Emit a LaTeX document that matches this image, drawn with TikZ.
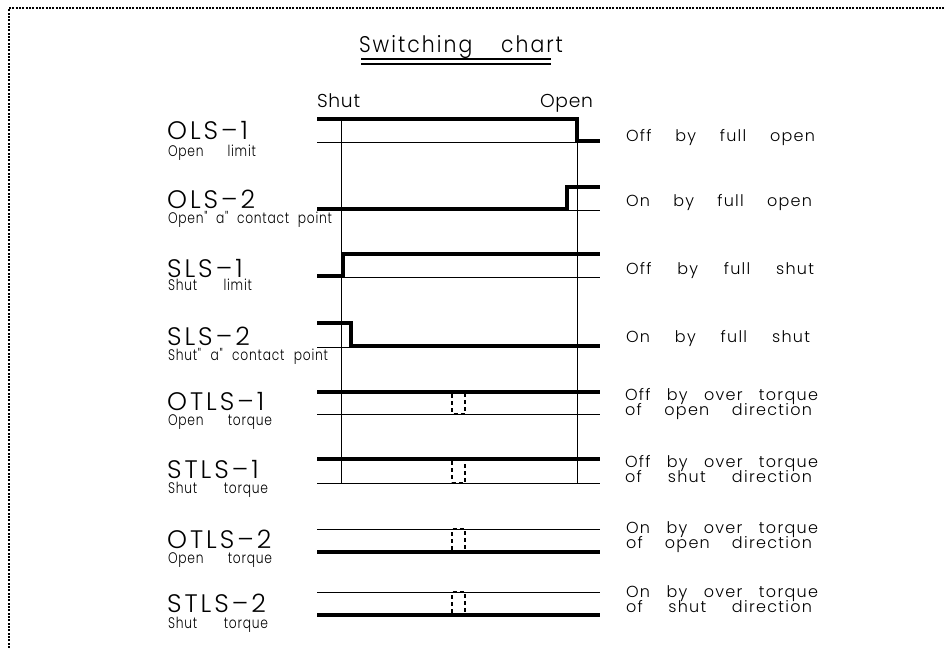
\documentclass[tikz,border=0pt]{standalone}
\usepackage{fontspec}
\newfontfamily\cadtitle{Poppins}[UprightFont=* Light, FakeStretch=0.9, LetterSpace=9]
\newfontfamily\cadbig{Poppins}[UprightFont=* Light, LetterSpace=12]
\newfontfamily\cadmid{Poppins}[UprightFont=* Light, LetterSpace=4]
\newfontfamily\cadsmall{Poppins}[UprightFont=* Light, FakeStretch=0.8, LetterSpace=5]
\newfontfamily\cadright{Poppins}[UprightFont=* Light, LetterSpace=8]
\newcommand{\wbox}[2]{\makebox[\dimexpr #1pt*3/4\relax][s]{#2}}
\tikzset{
  lbl/.style={anchor=base west, inner sep=0pt, outer sep=0pt},
  bigl/.style={lbl, font=\cadbig\fontsize{19}{19}\selectfont, text depth=0pt},
  smalll/.style={lbl, font=\cadsmall\fontsize{11.5}{11.5}\selectfont, text height=7pt, text depth=1.5pt},
  rightl/.style={lbl, font=\cadright\fontsize{12}{12}\selectfont, text height=8pt, text depth=1.5pt},
  thickline/.style={line width=3.4pt, line join=miter, line cap=butt},
  thinline/.style={line width=0.6pt},
  guide/.style={line width=0.75pt},
  dashbox/.style={line width=2.2pt, dash pattern=on 3pt off 2.4pt},
  border/.style={line width=1.5pt, dash pattern=on 1.5pt off 1pt}
}
\begin{document}
\begin{tikzpicture}[x=0.75pt, y=-0.75pt]
\useasboundingbox (0,0) rectangle (944,648);
\fill[white] (0,0) rectangle (944,648);
% frame
\draw[border] (9,648) -- (9,8) -- (944,8);
% title
\node[lbl, font=\cadtitle\fontsize{17}{17}\selectfont] (title) at (359,53) {\wbox{204}{Switching chart}};
\draw[line width=0.9pt] (361,59) -- (551,59);
\draw[line width=0.9pt] (361,64) -- (551,64);
\node[lbl, font=\cadmid\fontsize{14}{14}\selectfont] (shut) at (317,108) {Shut};
\node[lbl, font=\cadmid\fontsize{14}{14}\selectfont, anchor=base east] (open) at (593,108) {Open};
% vertical guides
\draw[guide] (341,119) -- (341,484);
\draw[guide] (577,119) -- (577,484);
% OLS-1
\draw[thinline] (317,142) -- (600,142);
\draw[thickline] (317,119) -- (577,119) -- (577,141) -- (600,141);
% OLS-2
\draw[thinline] (317,210) -- (600,210);
\draw[thickline] (317,209) -- (567,209) -- (567,187) -- (600,187);
% SLS-1
\draw[thinline] (317,277) -- (600,277);
\draw[thickline] (317,276) -- (343,276) -- (343,254) -- (600,254);
% SLS-2
\draw[thinline] (317,347) -- (600,347);
\draw[thickline] (317,323) -- (351,323) -- (351,346) -- (600,346);
% OTLS-1
\draw[thickline] (317,392) -- (600,392);
\draw[thinline] (317,414) -- (600,414);
\draw[dashbox] (452,394) -- (452,414) -- (465,414) -- (465,394);
% STLS-1
\draw[thickline] (317,459) -- (600,459);
\draw[thinline] (317,483) -- (600,483);
\draw[dashbox] (452,461) -- (452,483) -- (465,483) -- (465,461);
% OTLS-2
\draw[thinline] (317,529) -- (600,529);
\draw[thickline] (317,552) -- (600,552);
\draw[dashbox] (452,550) -- (452,529) -- (465,529) -- (465,550);
% STLS-2
\draw[thinline] (317,592) -- (600,592);
\draw[thickline] (317,615) -- (600,615);
\draw[dashbox] (452,613) -- (452,592) -- (465,592) -- (465,613);
% left labels
\node[bigl] (l1) at (167,140) {OLS–1};
\node[smalll] (s1) at (168,157) {\wbox{88}{Open limit}};
\node[bigl] (l2) at (167,209) {OLS–2};
\node[smalll] (s2) at (168,224) {\wbox{164}{Open" a" contact point}};
\node[bigl] (l3) at (167,277) {SLS–1};
\node[smalll] (s3) at (168,291) {\wbox{84}{Shut limit}};
\node[bigl] (l4) at (167,345) {SLS–2};
\node[smalll] (s4) at (168,360) {\wbox{160}{Shut" a" contact point}};
\node[bigl] (l5) at (167,410) {OTLS–1};
\node[smalll] (s5) at (168,425) {\wbox{104}{Open torque}};
\node[bigl] (l6) at (167,478) {STLS–1};
\node[smalll] (s6) at (168,493) {\wbox{100}{Shut torque}};
\node[bigl] (l7) at (167,548) {OTLS–2};
\node[smalll] (s7) at (168,563) {\wbox{104}{Open torque}};
\node[bigl] (l8) at (167,612) {STLS–2};
\node[smalll] (s8) at (168,628) {\wbox{100}{Shut torque}};
% right labels
\node[rightl] (r1) at (626,142) {\wbox{189}{Off by full open}};
\node[rightl] (r2) at (626,207) {\wbox{186}{On by full open}};
\node[rightl] (r3) at (626,274) {\wbox{188}{Off by full shut}};
\node[rightl] (r4) at (626,342) {\wbox{184}{On by full shut}};
\node[rightl] (r5a) at (625,400) {\wbox{193}{Off by over torque}};
\node[rightl] (r5b) at (625,415) {\wbox{187}{of open direction}};
\node[rightl] (r6a) at (625,467) {\wbox{193}{Off by over torque}};
\node[rightl] (r6b) at (625,482) {\wbox{187}{of shut direction}};
\node[rightl] (r7a) at (626,533) {\wbox{192}{On by over torque}};
\node[rightl] (r7b) at (626,548) {\wbox{186}{of open direction}};
\node[rightl] (r8a) at (626,597) {\wbox{192}{On by over torque}};
\node[rightl] (r8b) at (626,612) {\wbox{186}{of shut direction}};
\end{tikzpicture}
\end{document}
